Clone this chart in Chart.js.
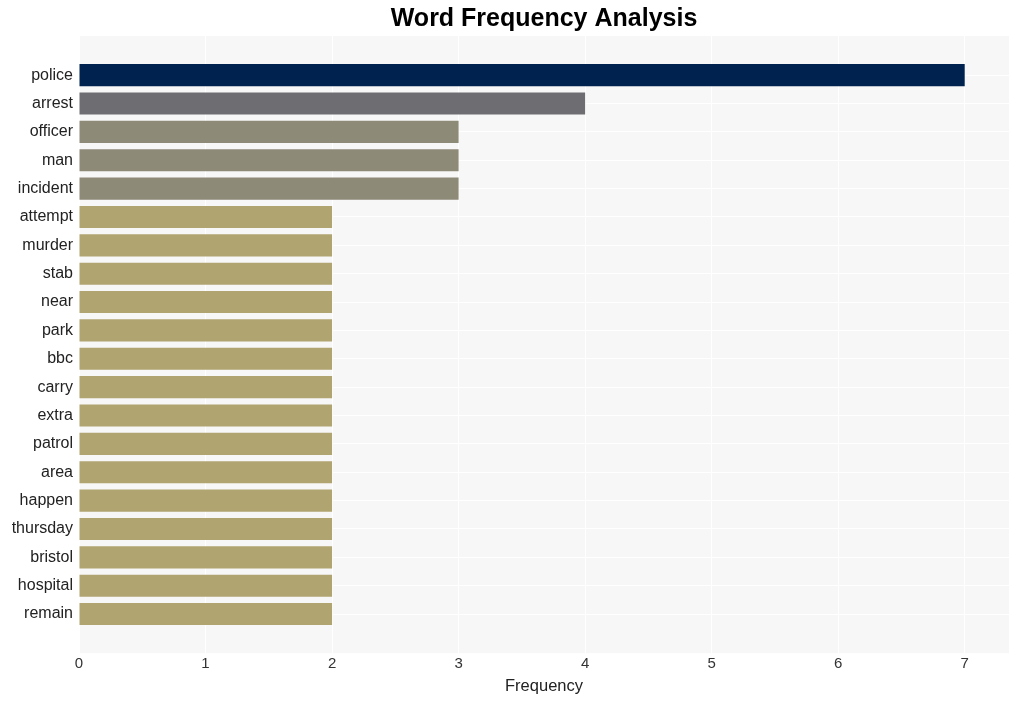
<!DOCTYPE html>
<html>
<head>
<meta charset="utf-8">
<script src="https://cdn.jsdelivr.net/npm/chart.js@4/dist/chart.umd.min.js"></script>
<style>
  html, body { margin: 0; padding: 0; background: #fff; }
  #wrap { width: 1018px; height: 701px; }
</style>
</head>
<body>
<div id="wrap"><canvas id="freqChart" width="1018" height="701"></canvas></div>
<script>
// word counts, top to bottom
var words = ['police', 'arrest', 'officer', 'man', 'incident', 'attempt', 'murder', 'stab', 'near', 'park',
             'bbc', 'carry', 'extra', 'patrol', 'area', 'happen', 'thursday', 'bristol', 'hospital', 'remain'];
var counts = [7, 4, 3, 3, 3, 2, 2, 2, 2, 2, 2, 2, 2, 2, 2, 2, 2, 2, 2, 2];
var xTicks = [0, 1, 2, 3, 4, 5, 6, 7];

// colour per count value
var palette = { 7: '#00224f', 4: '#6e6e72', 3: '#8e8a78', 2: '#b0a570' };

var points = counts.map(function (c, i) { return { x: c, y: i }; });

var plotBg = {
  id: 'plotBg',
  beforeDraw: function (chart) {
    var a = chart.chartArea, ctx = chart.ctx;
    ctx.save();
    ctx.fillStyle = '#f7f7f7';
    ctx.fillRect(a.left, a.top, a.right - a.left, a.bottom - a.top);
    ctx.restore();
  }
};

var ctx = document.getElementById('freqChart').getContext('2d');
new Chart(ctx, {
  type: 'bar',
  data: {
    datasets: [{
      data: points,
      backgroundColor: counts.map(function (c) { return palette[c]; }),
      borderWidth: 0,
      barPercentage: 1,
      categoryPercentage: 0.78
    }]
  },
  plugins: [plotBg],
  options: {
    indexAxis: 'y',
    responsive: false,
    animation: false,
    layout: { padding: { left: 0, right: 9, top: 0, bottom: 5 } },
    plugins: {
      legend: { display: false },
      tooltip: { enabled: false },
      title: {
        display: true,
        text: 'Word Frequency Analysis',
        fullSize: false,
        color: '#000',
        font: { family: 'Liberation Sans, Arial, sans-serif', size: 25, weight: 'bold' },
        padding: { top: 4, bottom: 2 }
      }
    },
    scales: {
      x: {
        type: 'linear',
        bounds: 'data',
        offset: false,
        min: 0,
        max: 7.35,
        afterBuildTicks: function (scale) {
          scale.ticks = xTicks.map(function (v) { return { value: v }; });
        },
        grid: { color: '#ffffff', lineWidth: 1, drawTicks: false },
        border: { display: false },
        ticks: {
          color: '#333',
          padding: 2,
          font: { family: 'Liberation Sans, Arial, sans-serif', size: 15 }
        },
        title: {
          display: true,
          text: 'Frequency',
          color: '#222',
          padding: { top: 1, bottom: 0 },
          font: { family: 'Liberation Sans, Arial, sans-serif', size: 16.5 }
        }
      },
      y: {
        type: 'linear',
        bounds: 'data',
        offset: false,
        reverse: true,
        min: -1.38,
        max: 20.38,
        afterBuildTicks: function (scale) {
          scale.ticks = words.map(function (w, i) { return { value: i }; });
        },
        afterFit: function (scale) { scale.width = 79; },
        grid: { color: '#ffffff', lineWidth: 1, drawTicks: false, offset: false },
        border: { display: false },
        ticks: {
          color: '#222',
          padding: 6,
          font: { family: 'Liberation Sans, Arial, sans-serif', size: 16 },
          callback: function (v) { return words[v]; }
        }
      }
    }
  }
});
</script>
</body>
</html>
